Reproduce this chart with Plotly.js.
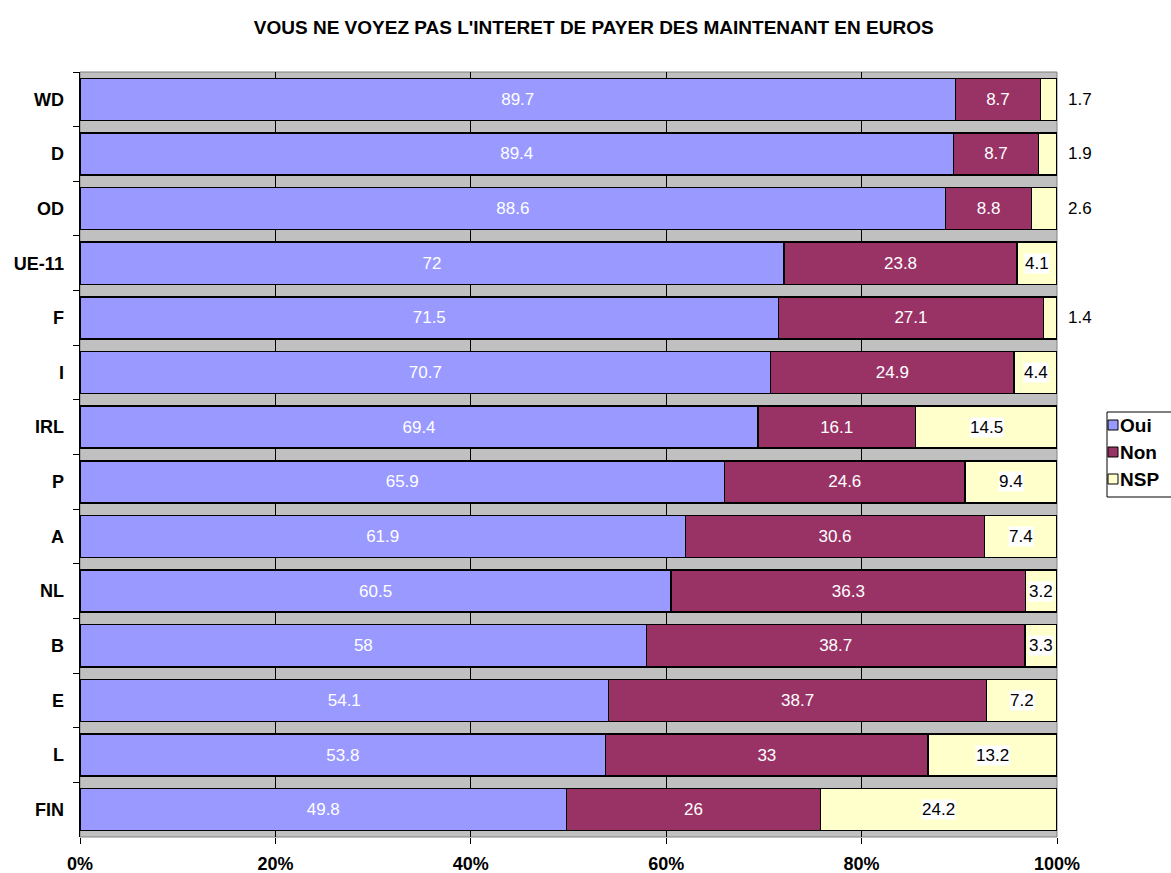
<!DOCTYPE html>
<html>
<head>
<meta charset="utf-8">
<script src="https://cdn.plot.ly/plotly-3.0.1.min.js"></script>
<style>
	html, body { margin: 0; padding: 0; background: #fff; }
	#chart { width: 1171px; height: 873px; }
</style>
</head>
<body>
<div id="chart"></div>
<script>
(function () {

	'use strict';

	// data, read top to bottom
	const countries = ['WD', 'D', 'OD', 'UE-11', 'F', 'I', 'IRL', 'P', 'A', 'NL', 'B', 'E', 'L', 'FIN'];
	const oui = [89.7, 89.4, 88.6, 72, 71.5, 70.7, 69.4, 65.9, 61.9, 60.5, 58, 54.1, 53.8, 49.8];
	const non = [8.7, 8.7, 8.8, 23.8, 27.1, 24.9, 16.1, 24.6, 30.6, 36.3, 38.7, 38.7, 33, 26];
	const nsp = [1.7, 1.9, 2.6, 4.1, 1.4, 4.4, 14.5, 9.4, 7.4, 3.2, 3.3, 7.2, 13.2, 24.2];

	const seriesNames = ['Oui', 'Non', 'NSP'];
	const seriesColors = ['#9999FF', '#993366', '#FFFFCC'];

	const FONT = 'Liberation Sans, Arial, sans-serif';

	// plot area in pixels (matches margins below)
	const PLOT = { l: 80, r: 1057, t: 72, b: 837 };
	const px2x = ( px ) => ( px - PLOT.l ) / ( PLOT.r - PLOT.l );
	const px2y = ( py ) => ( PLOT.b - py ) / ( PLOT.b - PLOT.t );

	/**
	* One stacked bar trace
	*/
	const barTrace = ( i, values, showText ) => ({
		type: 'bar',
		orientation: 'h',
		name: seriesNames[i],
		y: countries,
		x: values,
		text: values.map( v => String( v ) ),
		texttemplate: showText ? '%{text}' : '',
		textposition: showText ? 'inside' : 'none',
		insidetextanchor: 'middle',
		constraintext: 'none',
		textfont: { family: FONT, size: 17, color: '#fff' },
		marker: { color: seriesColors[i], line: { color: '#000', width: 1.5 } },
		hoverinfo: 'skip'
	});

	const data = [
		barTrace( 0, oui, true ),
		barTrace( 1, non, true ),
		barTrace( 2, nsp, false )
	];

	/**
	* NSP labels - white box inside the segment, or next to the bar if too narrow
	*/
	const nspLabels = countries.map(( c, i ) => {
		const total = oui[i] + non[i] + nsp[i];
		const fits = nsp[i] >= 3;
		const label = {
			y: c,
			text: String( nsp[i] ),
			showarrow: false,
			font: { family: FONT, size: 17, color: '#000' },
			borderpad: 0
		};
		if( fits ){
			label.x = ( oui[i] + non[i] + nsp[i] / 2 ) / total * 100;
			label.bgcolor = '#fff';
		} else {
			label.x = 100;
			label.xanchor = 'left';
			label.xshift = 10;
		}
		return label;
	});

	/**
	* Legend - drawn by hand so it sits like the Excel one (box runs off the right edge)
	*/
	const legendShapes = [{
		type: 'rect',
		xref: 'paper', yref: 'paper',
		x0: px2x( 1107 ), x1: px2x( 1200 ),
		y0: px2y( 412 ), y1: px2y( 497 ),
		line: { color: '#000', width: 1 },
		fillcolor: '#fff'
	}];
	const legendText = [];
	seriesNames.forEach(( name, i ) => {
		const cy = 425 + i * 27;
		legendShapes.push({
			type: 'rect',
			xref: 'paper', yref: 'paper',
			x0: px2x( 1108 ), x1: px2x( 1118 ),
			y0: px2y( cy - 5 ), y1: px2y( cy + 5 ),
			line: { color: '#000', width: 1 },
			fillcolor: seriesColors[i]
		});
		legendText.push({
			xref: 'paper', yref: 'paper',
			x: px2x( 1119 ), y: px2y( cy ),
			xanchor: 'left', yanchor: 'middle',
			text: name,
			showarrow: false,
			borderpad: 0,
			font: { family: FONT, size: 19, weight: 'bold', color: '#000' }
		});
	});

	const layout = {
		width: 1171,
		height: 873,
		margin: { l: PLOT.l, r: 1171 - PLOT.r, t: PLOT.t, b: 873 - PLOT.b, autoexpand: false },
		paper_bgcolor: '#fff',
		plot_bgcolor: '#C0C0C0',
		font: { family: FONT, color: '#000' },
		title: {
			text: 'VOUS NE VOYEZ PAS L\'INTERET DE PAYER DES MAINTENANT EN EUROS',
			font: { family: FONT, size: 19, weight: 'bold', color: '#000' },
			x: 0.507,
			xanchor: 'center',
			y: 0.969,
			yanchor: 'middle'
		},
		barmode: 'stack',
		barnorm: 'percent',
		bargap: 0.23,
		xaxis: {
			range: [0, 100],
			dtick: 20,
			ticksuffix: '%',
			showgrid: true,
			gridcolor: '#000',
			gridwidth: 1,
			zeroline: false,
			ticks: 'outside',
			ticklen: 6,
			tickcolor: '#000',
			ticklabelstandoff: 4,
			tickfont: { family: FONT, size: 18, weight: 'bold', color: '#000' },
			fixedrange: true
		},
		yaxis: {
			type: 'category',
			categoryorder: 'array',
			categoryarray: countries,
			autorange: 'reversed',
			showline: true,
			linecolor: '#000',
			linewidth: 1.5,
			ticks: 'outside',
			tickson: 'boundaries',
			ticklen: 6,
			tickcolor: '#000',
			ticklabelstandoff: 11,
			showgrid: false,
			tickfont: { family: FONT, size: 18, weight: 'bold', color: '#000' },
			fixedrange: true
		},
		shapes: [{
			type: 'rect',
			xref: 'paper', yref: 'paper',
			x0: 0, x1: 1, y0: 0, y1: 1,
			line: { color: '#808080', width: 1 },
			layer: 'below'
		}].concat( legendShapes ),
		annotations: nspLabels.concat( legendText ),
		showlegend: false
	};

	Plotly.newPlot('chart', data, layout, { displayModeBar: false, staticPlot: true });

})();
</script>
</body>
</html>
